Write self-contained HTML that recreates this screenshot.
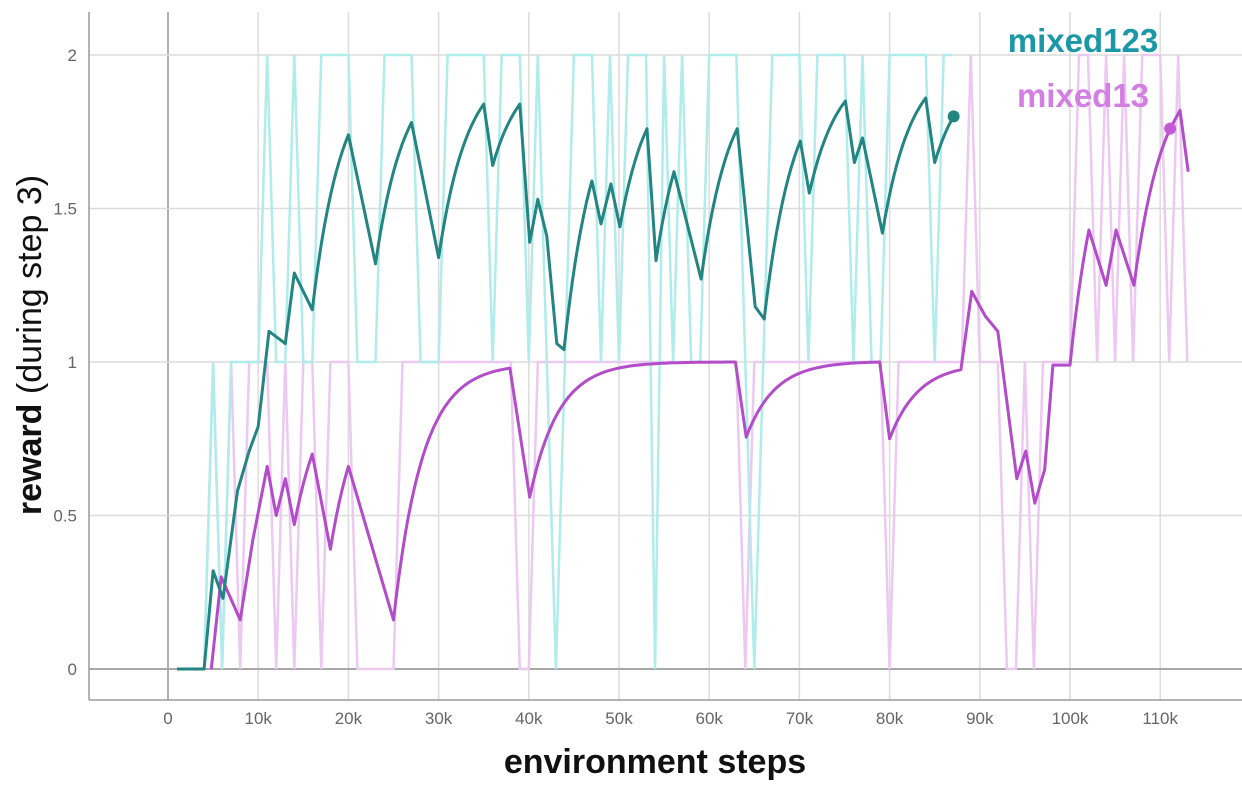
<!DOCTYPE html>
<html><head><meta charset="utf-8">
<style>
html,body{margin:0;padding:0;background:#fff;}
svg{display:block;font-family:"Liberation Sans",sans-serif;}
</style></head>
<body>
<svg id="chart" width="1242" height="788" viewBox="0 0 1242 788" xmlns="http://www.w3.org/2000/svg">
  <g id="grid"></g>
  <g id="raw"></g>
  <g id="smooth"></g>
  <g id="ticks"></g>
  <line x1="89" y1="12" x2="89" y2="700" stroke="#9a9a9a" stroke-width="1.5"/>
  <line x1="89" y1="700" x2="1242" y2="700" stroke="#9a9a9a" stroke-width="1.5"/>
  <text x="655" y="773" text-anchor="middle" font-size="34" font-weight="bold" fill="#111">environment steps</text>
  <text transform="translate(41,345) rotate(-90)" text-anchor="middle" font-size="34" fill="#111"><tspan font-weight="bold">reward</tspan> (during step 3)</text>
  <text x="1083" y="52" text-anchor="middle" font-size="33" font-weight="bold" fill="#1a98a8">mixed123</text>
  <text x="1083" y="107" text-anchor="middle" font-size="33" font-weight="bold" fill="#d27ee2">mixed13</text>
</svg>
<script>
const xTicks = [0,10,20,30,40,50,60,70,80,90,100,110,120];
const xTickLabels = ["0","10k","20k","30k","40k","50k","60k","70k","80k","90k","100k","110k","1"];
const yTicks = [0,0.5,1,1.5,2];
const yTickLabels = ["0","0.5","1","1.5","2"];

const rawTealSteps = [1,2,3,4,5,6,7,8,9,10,11,12,13,14,15,16,17,18,19,20,21,22,23,24,25,26,27,28,29,30,31,32,33,34,35,36,37,38,39,40,41,42,43,44,45,46,47,48,49,50,51,52,53,54,55,56,57,58,59,60,61,62,63,64,65,66,67,68,69,70,71,72,73,74,75,76,77,78,79,80,81,82,83,84,85,86,87];
const rawTealValues = [0,0,0,0,1,0,1,1,1,1,2,1,1,2,1,1,2,2,2,2,1,1,1,2,2,2,2,1,1,1,2,2,2,2,2,1,2,2,2,1,2,1,0,1,2,2,2,1,2,1,2,2,2,0,2,1,2,1,1,2,2,2,2,1,0,1,2,2,2,2,1,2,2,2,2,1,2,1,1,2,2,2,2,2,1,2,2];

const rawMagentaSteps = [1,2,3,4,5,6,7,8,9,10,11,12,13,14,15,16,17,18,19,20,21,22,23,24,25,26,27,28,29,30,31,32,33,34,35,36,37,38,39,40,41,42,43,44,45,46,47,48,49,50,51,52,53,54,55,56,57,58,59,60,61,62,63,64,65,66,67,68,69,70,71,72,73,74,75,76,77,78,79,80,81,82,83,84,85,86,87,88,89,90,91,92,93,94,95,96,97,98,99,100,101,102,103,104,105,106,107,108,109,110,111,112,113];
const rawMagentaValues = [0,0,0,0,1,0,1,0,1,1,1,0,1,0,1,1,0,1,1,1,0,0,0,0,0,1,1,1,1,1,1,1,1,1,1,1,1,1,0,0,1,1,1,1,1,1,1,1,1,1,1,1,1,1,1,1,1,1,1,1,1,1,1,0,1,1,1,1,1,1,1,1,1,1,1,1,1,1,1,0,1,1,1,1,1,1,1,1,2,1,1,1,0,0,1,0,1,1,1,1,2,2,1,2,1,2,1,2,2,2,1,2,1];

const smoothTealSteps = [1,4,5,6.1,7.7,9,10,11.2,13,14,16,20,23,27,30,35,36,39,40.1,41,42,43.1,43.9,47,48,49.1,50.1,53.1,54.1,56.1,59.1,63.1,65.1,66.1,70.1,71.1,75.1,76.1,77,79.2,84,85,87.1];
const smoothTealValues = [0,0,0.32,0.23,0.58,0.71,0.79,1.10,1.06,1.29,1.17,1.74,1.32,1.78,1.34,1.84,1.64,1.84,1.39,1.53,1.41,1.06,1.04,1.59,1.45,1.58,1.44,1.76,1.33,1.62,1.27,1.76,1.18,1.14,1.72,1.55,1.85,1.65,1.73,1.42,1.86,1.65,1.80];

const smoothMagentaSteps = [4.8,5.9,8,9.4,11,12,13,14,16,18,20,25,37.9,40.1,62.9,64.1,78.9,80,87.9,89.1,90.6,92,94.1,95.1,96.1,97.2,98.1,100,102.1,104,105.1,107.1,111.1,112.2,113.1];
const smoothMagentaValues = [0,0.3,0.16,0.42,0.66,0.5,0.62,0.47,0.70,0.39,0.66,0.16,0.98,0.56,1.0,0.755,1.0,0.75,0.975,1.23,1.15,1.10,0.62,0.71,0.54,0.65,0.99,0.99,1.43,1.25,1.43,1.25,1.76,1.82,1.62];

const tealDot = [87.1, 1.80];
const magentaDot = [111.1, 1.76];

const NS = "http://www.w3.org/2000/svg";
function xScale(k){ return 168 + k * 9.02; }
function yScale(v){ return 669 - v * 307; }
function mk(tag, attrs, parent){
  const el = document.createElementNS(NS, tag);
  for (const k in attrs) el.setAttribute(k, attrs[k]);
  parent.appendChild(el);
  return el;
}
const grid = document.getElementById('grid');
const ticks = document.getElementById('ticks');
xTicks.forEach((t,i)=>{
  const x = xScale(t);
  const l = mk('line',{x1:x,y1:12,x2:x,y2:700,stroke:t===0?'#b0b0b0':'#dcdcdc','stroke-width':t===0?2:1.5},grid);
  
  
  const tx = mk('text',{x:x,y:724,'text-anchor':'middle','font-size':17,fill:'#666'},ticks);
  tx.textContent = xTickLabels[i];
  
  
});
yTicks.forEach((t,i)=>{
  const y = yScale(t);
  const l = mk('line',{x1:89,y1:y,x2:1242,y2:y,stroke:t===0?'#a8a8a8':'#dcdcdc','stroke-width':t===0?2:1.5},grid);
  
  
  const tx = mk('text',{x:77,y:y+6,'text-anchor':'end','font-size':17,fill:'#666'},ticks);
  tx.textContent = yTickLabels[i];
  
  
});
const raw = document.getElementById('raw');
function rawPath(xs, vs){
  return xs.map((s,i)=>(i?'L':'M')+xScale(s).toFixed(1)+','+yScale(vs[i]).toFixed(1)).join(' ');
}
const rm = mk('path',{d:rawPath(rawMagentaSteps,rawMagentaValues),fill:'none',stroke:'#ecc9f1','stroke-width':2.5},raw);


const rt = mk('path',{d:rawPath(rawTealSteps,rawTealValues),fill:'none',stroke:'#b0ecea','stroke-width':2.5},raw);



function smoothPath(xs, vs){
  let d = 'M'+xScale(xs[0]).toFixed(1)+','+yScale(vs[0]).toFixed(1);
  for (let i=1;i<xs.length;i++){
    const dk = xs[i]-xs[i-1];
    if (dk >= 2 && vs[i] > vs[i-1]){
      const k = dk/3.2;
      const n = Math.ceil(dk*3);
      for (let j=1;j<=n;j++){
        const t=j/n;
        const f=(1-Math.exp(-k*t))/(1-Math.exp(-k));
        const s=xs[i-1]+dk*t, v=vs[i-1]+(vs[i]-vs[i-1])*f;
        d += ' L'+xScale(s).toFixed(1)+','+yScale(v).toFixed(1);
      }
    } else {
      d += ' L'+xScale(xs[i]).toFixed(1)+','+yScale(vs[i]).toFixed(1);
    }
  }
  return d;
}
const smooth = document.getElementById('smooth');
const sm = mk('path',{d:smoothPath(smoothMagentaSteps,smoothMagentaValues),fill:'none',stroke:'#b24cc8','stroke-width':3,'stroke-linejoin':'round'},smooth);


const st = mk('path',{d:smoothPath(smoothTealSteps,smoothTealValues),fill:'none',stroke:'#238582','stroke-width':3,'stroke-linejoin':'round'},smooth);


const dt = mk('circle',{cx:xScale(tealDot[0]),cy:yScale(tealDot[1]),r:6,fill:'#238582'},smooth);


const dm = mk('circle',{cx:xScale(magentaDot[0]),cy:yScale(magentaDot[1]),r:6,fill:'#c45ad6'},smooth);


</script>
</body></html>
